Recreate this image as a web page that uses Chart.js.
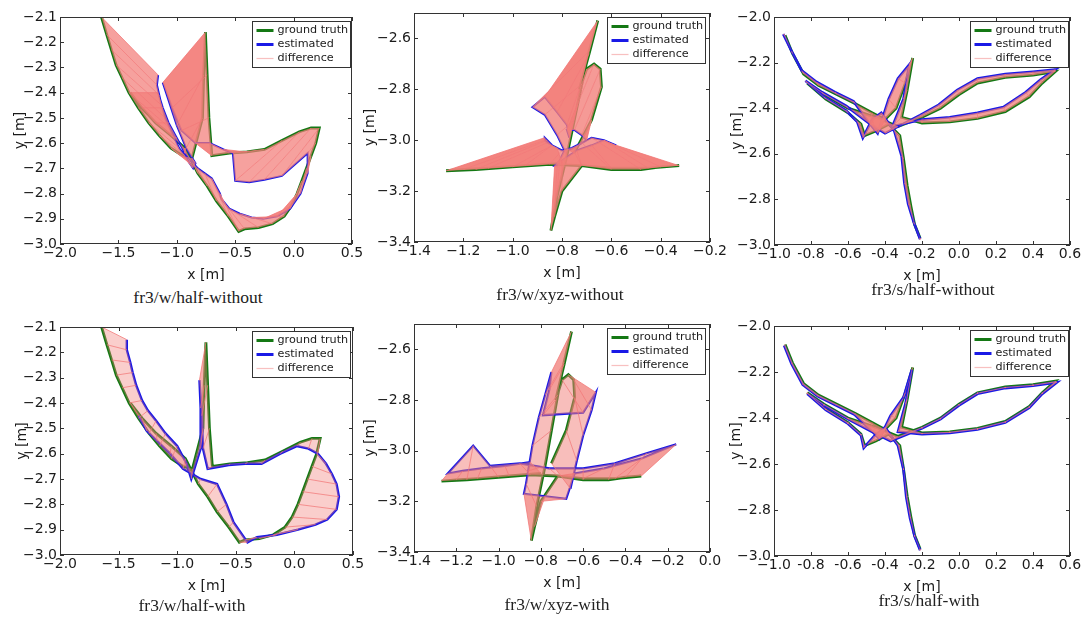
<!DOCTYPE html>
<html>
<head>
<meta charset="utf-8">
<script src="https://cdn.jsdelivr.net/npm/chart.js@4.4.0/dist/chart.umd.min.js"></script>
<style>
  body { margin: 0; background: #fff; width: 1083px; height: 618px; position: relative; overflow: hidden; }
  canvas.panel { position: absolute; }
  .cap { position: absolute; font-family: "Liberation Serif", "Times New Roman", serif; font-size: 17.5px; color: #222; transform: translate(-50%, -50%); white-space: nowrap; }
</style>
</head>
<body>
<script>
// ---- tick values and labels ----
const xTicksHalf = [-2.0, -1.5, -1.0, -0.5, 0.0, 0.5];
const xLabelsHalf = ['\u22122.0', '\u22121.5', '\u22121.0', '\u22120.5', '0.0', '0.5'];
const yTicksHalf = [-3.0, -2.9, -2.8, -2.7, -2.6, -2.5, -2.4, -2.3, -2.2, -2.1];
const yLabelsHalf = ['\u22123.0', '\u22122.9', '\u22122.8', '\u22122.7', '\u22122.6', '\u22122.5', '\u22122.4', '\u22122.3', '\u22122.2', '\u22122.1'];

const xTicksXyz = [-1.4, -1.2, -1.0, -0.8, -0.6, -0.4, -0.2];
const xLabelsXyz = ['\u22121.4', '\u22121.2', '\u22121.0', '\u22120.8', '\u22120.6', '\u22120.4', '\u22120.2'];
const xTicksXyzWith = [-1.4, -1.2, -1.0, -0.8, -0.6, -0.4, -0.2, 0.0];
const xLabelsXyzWith = ['\u22121.4', '\u22121.2', '\u22121.0', '\u22120.8', '\u22120.6', '\u22120.4', '\u22120.2', '0.0'];
const yTicksXyz = [-3.4, -3.2, -3.0, -2.8, -2.6];
const yLabelsXyz = ['\u22123.4', '\u22123.2', '\u22123.0', '\u22122.8', '\u22122.6'];

const xTicksSit = [-1.0, -0.8, -0.6, -0.4, -0.2, 0.0, 0.2, 0.4, 0.6];
const xLabelsSit = ['\u22121.0', '-0.8', '-0.6', '-0.4', '-0.2', '0.0', '0.2', '0.4', '0.6'];
const yTicksSit = [-3.0, -2.8, -2.6, -2.4, -2.2, -2.0];
const yLabelsSit = ['\u22123.0', '\u22122.8', '\u22122.6', '\u22122.4', '\u22122.2', '\u22122.0'];

// ---- trajectories [x, y] in metres, same index = same timestamp ----
const gtHalf = [[-1.645,-2.10],[-1.60,-2.17],[-1.56,-2.23],[-1.52,-2.29],[-1.47,-2.34],[-1.41,-2.40],[-1.33,-2.46],[-1.24,-2.52],[-1.15,-2.57],[-1.05,-2.62],[-0.95,-2.65],[-0.87,-2.66],[-0.78,-2.50],[-0.77,-2.33],[-0.755,-2.16],[-0.74,-2.33],[-0.725,-2.50],[-0.70,-2.65],[-0.55,-2.64],[-0.40,-2.635],[-0.25,-2.625],[-0.10,-2.59],[0.05,-2.555],[0.15,-2.54],[0.22,-2.54],[0.19,-2.60],[0.15,-2.65],[0.11,-2.70],[0.07,-2.75],[0.03,-2.80],[-0.02,-2.85],[-0.08,-2.89],[-0.18,-2.92],[-0.30,-2.935],[-0.42,-2.94],[-0.47,-2.95],[-0.56,-2.89],[-0.66,-2.83],[-0.74,-2.77],[-0.82,-2.72],[-0.93,-2.62],[-1.05,-2.57],[-1.18,-2.52],[-1.30,-2.46],[-1.40,-2.40]];
const estHalfWithout = [[-1.16,-2.33],[-1.17,-2.37],[-1.15,-2.41],[-1.13,-2.45],[-1.10,-2.50],[-1.06,-2.54],[-1.02,-2.58],[-0.98,-2.62],[-0.93,-2.65],[-0.89,-2.68],[-0.86,-2.70],[-0.84,-2.68],[-0.92,-2.62],[-1.00,-2.53],[-1.12,-2.36],[-1.04,-2.46],[-0.96,-2.55],[-0.84,-2.60],[-0.72,-2.60],[-0.60,-2.625],[-0.52,-2.64],[-0.50,-2.75],[-0.38,-2.755],[-0.25,-2.745],[-0.10,-2.73],[0.12,-2.64],[0.12,-2.72],[0.06,-2.80],[-0.03,-2.86],[-0.14,-2.89],[-0.26,-2.90],[-0.36,-2.895],[-0.46,-2.88],[-0.55,-2.86],[-0.62,-2.82],[-0.63,-2.80],[-0.70,-2.74],[-0.76,-2.72],[-0.82,-2.70],[-0.86,-2.68],[-0.93,-2.64],[-1.00,-2.58],[-1.07,-2.52],[-1.12,-2.46],[-1.16,-2.40]];
const estHalfWith = [[-1.43,-2.15],[-1.43,-2.19],[-1.40,-2.24],[-1.38,-2.28],[-1.35,-2.33],[-1.30,-2.39],[-1.25,-2.43],[-1.18,-2.47],[-1.10,-2.52],[-1.00,-2.57],[-0.92,-2.64],[-0.88,-2.70],[-0.80,-2.58],[-0.80,-2.42],[-0.81,-2.31],[-0.79,-2.45],[-0.78,-2.58],[-0.74,-2.66],[-0.56,-2.645],[-0.42,-2.64],[-0.28,-2.64],[-0.12,-2.60],[0.02,-2.57],[0.12,-2.58],[0.20,-2.60],[0.27,-2.64],[0.32,-2.68],[0.36,-2.72],[0.38,-2.77],[0.36,-2.82],[0.28,-2.86],[0.18,-2.88],[0.03,-2.90],[-0.15,-2.92],[-0.32,-2.93],[-0.40,-2.95],[-0.52,-2.87],[-0.58,-2.80],[-0.66,-2.72],[-0.80,-2.70],[-0.95,-2.66],[-1.06,-2.60],[-1.17,-2.55],[-1.26,-2.51],[-1.33,-2.45]];

const gtXyz = [[-0.80,-3.09],[-0.95,-3.10],[-1.10,-3.11],[-1.20,-3.115],[-1.27,-3.12],[-1.15,-3.115],[-1.00,-3.105],[-0.85,-3.095],[-0.72,-3.10],[-0.60,-3.115],[-0.48,-3.115],[-0.40,-3.105],[-0.325,-3.10],[-0.45,-3.11],[-0.60,-3.11],[-0.72,-3.10],[-0.80,-3.20],[-0.83,-3.30],[-0.845,-3.355],[-0.82,-3.22],[-0.78,-3.06],[-0.75,-2.92],[-0.72,-2.78],[-0.69,-2.65],[-0.655,-2.53],[-0.69,-2.66],[-0.73,-2.80],[-0.70,-2.72],[-0.67,-2.70],[-0.645,-2.72],[-0.64,-2.79],[-0.68,-2.92],[-0.75,-3.05]];
const estXyzWithout = [[-0.82,-3.03],[-0.84,-3.02],[-0.86,-3.01],[-0.87,-3.00],[-0.87,-2.99],[-0.86,-3.00],[-0.84,-3.02],[-0.80,-3.04],[-0.76,-3.03],[-0.72,-3.01],[-0.68,-2.99],[-0.63,-3.00],[-0.58,-3.02],[-0.63,-3.00],[-0.68,-3.02],[-0.74,-3.04],[-0.80,-3.08],[-0.82,-3.10],[-0.83,-3.10],[-0.81,-3.08],[-0.79,-3.04],[-0.82,-2.98],[-0.87,-2.90],[-0.92,-2.87],[-0.87,-2.83],[-0.82,-2.89],[-0.78,-2.94],[-0.77,-2.99],[-0.78,-2.96],[-0.75,-2.96],[-0.72,-2.98],[-0.70,-3.00],[-0.77,-3.04]];
const estXyzWith = [[-0.85,-3.045],[-0.97,-3.06],[-1.08,-3.07],[-1.17,-3.08],[-1.24,-3.09],[-1.12,-2.98],[-1.04,-3.06],[-0.90,-3.05],[-0.76,-3.07],[-0.60,-3.07],[-0.45,-3.05],[-0.30,-3.01],[-0.16,-2.975],[-0.32,-3.03],[-0.50,-3.07],[-0.64,-3.09],[-0.68,-3.19],[-0.78,-3.18],[-0.88,-3.17],[-0.87,-3.13],[-0.86,-3.08],[-0.84,-2.98],[-0.81,-2.87],[-0.78,-2.78],[-0.75,-2.69],[-0.76,-2.76],[-0.79,-2.86],[-0.60,-2.85],[-0.54,-2.77],[-0.56,-2.84],[-0.60,-2.94],[-0.63,-3.04],[-0.66,-3.15]];

const gtSit = [[-0.94,-2.08],[-0.90,-2.16],[-0.84,-2.25],[-0.76,-2.30],[-0.66,-2.34],[-0.56,-2.38],[-0.47,-2.42],[-0.40,-2.45],[-0.34,-2.40],[-0.29,-2.29],[-0.25,-2.18],[-0.28,-2.32],[-0.31,-2.44],[-0.20,-2.465],[-0.05,-2.46],[0.10,-2.445],[0.25,-2.415],[0.38,-2.35],[0.45,-2.29],[0.52,-2.24],[0.40,-2.255],[0.25,-2.265],[0.10,-2.29],[0.00,-2.34],[-0.10,-2.40],[-0.20,-2.44],[-0.33,-2.48],[-0.45,-2.44],[-0.60,-2.40],[-0.73,-2.34],[-0.82,-2.29],[-0.72,-2.36],[-0.60,-2.42],[-0.53,-2.47],[-0.51,-2.52],[-0.45,-2.50],[-0.38,-2.47],[-0.32,-2.52],[-0.30,-2.62],[-0.28,-2.74],[-0.26,-2.83],[-0.24,-2.91],[-0.21,-2.97]];
const estSitWithout = [[-0.95,-2.075],[-0.905,-2.15],[-0.85,-2.235],[-0.77,-2.285],[-0.67,-2.33],[-0.57,-2.37],[-0.48,-2.47],[-0.44,-2.51],[-0.38,-2.36],[-0.33,-2.27],[-0.27,-2.21],[-0.30,-2.36],[-0.36,-2.48],[-0.20,-2.45],[-0.05,-2.44],[0.10,-2.42],[0.24,-2.395],[0.36,-2.33],[0.44,-2.275],[0.52,-2.23],[0.40,-2.24],[0.25,-2.25],[0.10,-2.27],[-0.01,-2.32],[-0.11,-2.385],[-0.21,-2.43],[-0.40,-2.51],[-0.48,-2.47],[-0.61,-2.39],[-0.74,-2.33],[-0.83,-2.28],[-0.73,-2.35],[-0.61,-2.41],[-0.55,-2.46],[-0.52,-2.53],[-0.47,-2.45],[-0.42,-2.42],[-0.35,-2.50],[-0.31,-2.61],[-0.295,-2.73],[-0.275,-2.82],[-0.245,-2.90],[-0.21,-2.975]];
const estSitWith = [[-0.945,-2.085],[-0.905,-2.165],[-0.845,-2.255],[-0.765,-2.305],[-0.665,-2.345],[-0.565,-2.385],[-0.48,-2.45],[-0.43,-2.49],[-0.37,-2.39],[-0.30,-2.31],[-0.255,-2.19],[-0.29,-2.34],[-0.33,-2.46],[-0.20,-2.47],[-0.05,-2.465],[0.10,-2.45],[0.25,-2.42],[0.38,-2.355],[0.45,-2.295],[0.53,-2.245],[0.40,-2.26],[0.25,-2.27],[0.10,-2.295],[0.00,-2.345],[-0.10,-2.405],[-0.20,-2.445],[-0.37,-2.50],[-0.47,-2.46],[-0.60,-2.405],[-0.73,-2.345],[-0.82,-2.295],[-0.72,-2.365],[-0.60,-2.425],[-0.53,-2.475],[-0.515,-2.53],[-0.46,-2.48],[-0.40,-2.44],[-0.33,-2.52],[-0.30,-2.625],[-0.285,-2.745],[-0.265,-2.835],[-0.24,-2.915],[-0.21,-2.975]];

// ---- styling ----
const GT_COLOR = 'rgb(20,120,20)';
const EST_COLOR = 'rgb(25,25,230)';
const DIFF_COLOR = 'rgba(242,120,120,0.85)';
const TXT = '#1a1a1a';
const SANS = 'DejaVu Sans';
const PAD_T = 12, PAD_R = 22, XH = 40;

const panels = [
  {frame: [60, 17, 352, 244], gt: gtHalf, est: estHalfWithout, x: [-2.0, 0.5], y: [-3.0, -2.1], xt: xTicksHalf, xl: xLabelsHalf, yt: yTicksHalf, yl: yLabelsHalf, yGap: 40, band: 'rgba(242,125,120,0.72)', estW: 2, legR: 2, cap: 'fr3/w/half-without', capAt: [198, 297]},
  {frame: [414, 13, 710, 242], gt: gtXyz, est: estXyzWithout, x: [-1.4, -0.2], y: [-3.4, -2.5], xt: xTicksXyz, xl: xLabelsXyz, yt: yTicksXyz, yl: yLabelsXyz, yGap: 44, band: 'rgba(242,125,120,0.78)', estW: 2, legR: 5, cap: 'fr3/w/xyz-without', capAt: [560, 294]},
  {frame: [774, 17, 1070, 245], gt: gtSit, est: estSitWithout, x: [-1.0, 0.6], y: [-3.0, -2.0], xt: xTicksSit, xl: xLabelsSit, yt: yTicksSit, yl: yLabelsSit, yGap: 37, band: 'rgba(242,125,120,0.75)', estW: 2.6, legR: 2, cap: 'fr3/s/half-without', capAt: [933, 289]},
  {frame: [60, 327, 353, 555], gt: gtHalf, est: estHalfWith, x: [-2.0, 0.5], y: [-3.0, -2.1], xt: xTicksHalf, xl: xLabelsHalf, yt: yTicksHalf, yl: yLabelsHalf, yGap: 38, band: 'rgba(242,125,120,0.38)', estW: 2.4, legR: 3, cap: 'fr3/w/half-with', capAt: [192, 605]},
  {frame: [414, 324, 710, 552], gt: gtXyz, est: estXyzWith, x: [-1.4, 0.0], y: [-3.4, -2.5], xt: xTicksXyzWith, xl: xLabelsXyzWith, yt: yTicksXyz, yl: yLabelsXyz, yGap: 44, band: 'rgba(242,125,120,0.5)', estW: 2.2, legR: 5, cap: 'fr3/w/xyz-with', capAt: [557, 604]},
  {frame: [774, 326, 1070, 556], gt: gtSit, est: estSitWith, x: [-1.0, 0.6], y: [-3.0, -2.0], xt: xTicksSit, xl: xLabelsSit, yt: yTicksSit, yl: yLabelsSit, yGap: 38, band: 'rgba(242,125,120,0.75)', estW: 2.6, legR: 2, cap: 'fr3/s/half-with', capAt: [929, 600]}
];

const toPts = a => a.map(([x, y]) => ({x: x, y: y}));

// one short segment per timestamp: ground truth -> estimate
function diffLines(gt, est) {
  const out = [];
  gt.forEach((g, i) => {
    out.push({x: g[0], y: g[1]}, {x: est[i][0], y: est[i][1]}, {x: null, y: null});
  });
  return out;
}

// area swept by two neighbouring difference segments
function diffBands(gt, est) {
  const out = [];
  for (let i = 0; i < gt.length - 1; i++) {
    out.push({x: gt[i][0], y: gt[i][1]}, {x: est[i][0], y: est[i][1]},
             {x: est[i + 1][0], y: est[i + 1][1]}, {x: gt[i + 1][0], y: gt[i + 1][1]},
             {x: null, y: null});
  }
  return out;
}

// matplotlib-like box, inward ticks and legend
const axesBox = {
  id: 'axesBox',
  afterDraw(chart) {
    const {ctx, chartArea: a, scales} = chart;
    const p = chart.options.plugins.axesBox;
    ctx.save();
    ctx.strokeStyle = '#333';
    ctx.lineWidth = 1;
    ctx.strokeRect(a.left + 0.5, a.top + 0.5, a.right - a.left - 1, a.bottom - a.top - 1);
    ctx.beginPath();
    scales.x.ticks.forEach(t => {
      const px = Math.round(scales.x.getPixelForValue(t.value)) + 0.5;
      ctx.moveTo(px, a.bottom); ctx.lineTo(px, a.bottom - 4);
      ctx.moveTo(px, a.top); ctx.lineTo(px, a.top + 4);
    });
    scales.y.ticks.forEach(t => {
      const py = Math.round(scales.y.getPixelForValue(t.value)) + 0.5;
      ctx.moveTo(a.left, py); ctx.lineTo(a.left + 4, py);
      ctx.moveTo(a.right, py); ctx.lineTo(a.right - 4, py);
    });
    ctx.stroke();

    const bw = 98, bh = 46;
    const bx = Math.round(a.right - p.legR - bw) + 0.5, by = Math.round(a.top + 4) + 0.5;
    ctx.fillStyle = '#fff';
    ctx.fillRect(bx, by, bw, bh);
    ctx.strokeStyle = '#333';
    ctx.strokeRect(bx, by, bw, bh);
    const rows = [['ground truth', GT_COLOR, 3], ['estimated', EST_COLOR, 3], ['difference', 'rgba(242,140,140,0.55)', 1.2]];
    ctx.font = '11.2px "' + SANS + '"';
    ctx.textBaseline = 'middle';
    rows.forEach((r, i) => {
      const yy = by + 9 + i * 14;
      ctx.strokeStyle = r[1];
      ctx.lineWidth = r[2];
      ctx.beginPath();
      ctx.moveTo(bx + 4, yy); ctx.lineTo(bx + 21, yy);
      ctx.stroke();
      ctx.fillStyle = TXT;
      ctx.fillText(r[0], bx + 25, yy);
    });
    ctx.restore();
  }
};

panels.forEach(p => {
  const [l, t, r, b] = p.frame;
  const yw = Math.round(p.yGap + 8);
  const w = (r - l) + yw + PAD_R;
  const h = (b - t) + PAD_T + XH;
  const cv = document.createElement('canvas');
  cv.className = 'panel';
  cv.width = w; cv.height = h;
  cv.style.left = (l - yw) + 'px';
  cv.style.top = (t - PAD_T) + 'px';
  cv.style.width = w + 'px';
  cv.style.height = h + 'px';
  document.body.appendChild(cv);

  const cap = document.createElement('div');
  cap.className = 'cap';
  cap.textContent = p.cap;
  cap.style.left = p.capAt[0] + 'px';
  cap.style.top = p.capAt[1] + 'px';
  document.body.appendChild(cap);

  const tickFont = {family: SANS, size: 14};
  new Chart(cv, {
    type: 'scatter',
    data: {
      datasets: [
        {label: 'difference', data: diffLines(p.gt, p.est), showLine: true, borderColor: DIFF_COLOR, borderWidth: 0.9, pointRadius: 0, segment: {borderColor: () => undefined}, order: 0},
        {label: 'difference area', data: diffBands(p.gt, p.est), showLine: true, fill: 'shape', backgroundColor: p.band, borderWidth: 0, pointRadius: 0, order: 1},
        {label: 'estimated', data: toPts(p.est), showLine: true, borderColor: EST_COLOR, borderWidth: p.estW, pointRadius: 0, order: 2},
        {label: 'ground truth', data: toPts(p.gt), showLine: true, borderColor: GT_COLOR, borderWidth: 2.8, pointRadius: 0, order: 3}
      ]
    },
    options: {
      responsive: false,
      animation: false,
      events: [],
      layout: {padding: {top: PAD_T, right: PAD_R, left: 0, bottom: 0}},
      plugins: {legend: {display: false}, tooltip: {enabled: false}, axesBox: {legR: p.legR}},
      scales: {
        x: {
          type: 'linear', min: p.x[0], max: p.x[1],
          afterBuildTicks: ax => { ax.ticks = p.xt.map(v => ({value: v})); },
          afterFit: ax => { ax.height = XH; },
          grid: {display: false, drawTicks: false},
          border: {display: false},
          ticks: {autoSkip: false, maxRotation: 0, minRotation: 0, padding: 1, color: TXT, font: tickFont, callback: (v, i) => p.xl[i]},
          title: {display: true, text: 'x [m]', color: TXT, font: tickFont, padding: 0}
        },
        y: {
          type: 'linear', min: p.y[0], max: p.y[1],
          afterBuildTicks: ax => { ax.ticks = p.yt.map(v => ({value: v})); },
          afterFit: ax => { ax.width = yw; },
          grid: {display: false, drawTicks: false},
          border: {display: false},
          ticks: {autoSkip: false, padding: 3, color: TXT, font: tickFont, callback: (v, i) => p.yl[i]},
          title: {display: true, text: 'y [m]', color: TXT, font: tickFont, padding: 0}
        }
      }
    },
    plugins: [axesBox]
  });
});
</script>
</body>
</html>
